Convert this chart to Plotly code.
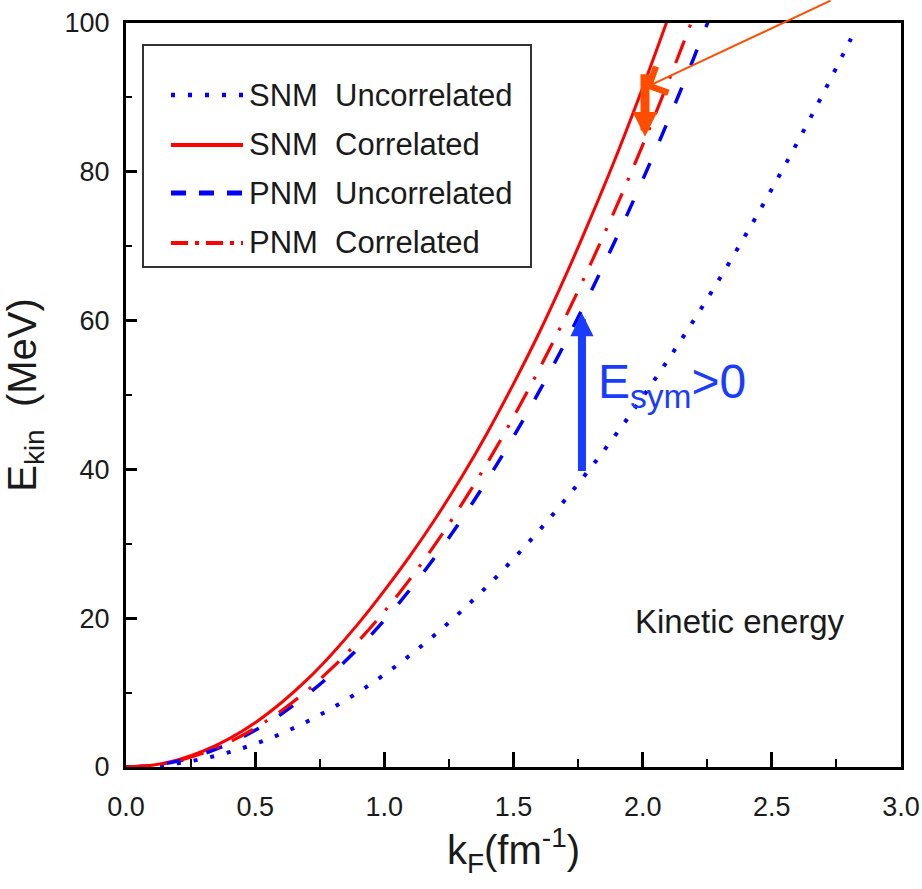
import plotly.graph_objects as go

# ---------------- data ----------------
k_F = [0.0, 0.1, 0.2, 0.3, 0.4, 0.5, 0.6, 0.7, 0.8, 0.9, 1.0, 1.1, 1.2, 1.3,
       1.4, 1.5, 1.6, 1.7, 1.8, 1.9, 2.0, 2.1, 2.2, 2.3, 2.4, 2.5, 2.6, 2.7,
       2.8, 2.82]

snm_uncorrelated = [0.0, 0.12, 0.50, 1.12, 1.99, 3.11, 4.47, 6.09, 7.96, 10.07,
                    12.43, 15.04, 17.90, 21.01, 24.36, 27.97, 31.82, 35.92,
                    40.27, 44.87, 49.72, 54.82, 60.16, 65.75, 71.60, 77.69,
                    84.03, 90.61, 97.45, 98.85]

snm_correlated = [0.0, 0.24, 0.95, 2.15, 3.82, 5.95, 8.6, 11.7, 15.3, 19.3,
                  23.7, 28.4, 33.5, 39.0, 45.0, 51.5, 58.4, 65.9, 73.9, 82.3,
                  91.3, 100.8, 110.6]

pnm_uncorrelated = [0.0, 0.20, 0.79, 1.78, 3.16, 4.93, 7.10, 9.67, 12.63, 15.98,
                    19.73, 23.87, 28.41, 33.34, 38.67, 44.39, 50.51, 57.02,
                    63.93, 71.22, 78.92, 87.01, 95.49, 104.37]

pnm_correlated = [0.0, 0.21, 0.84, 1.88, 3.34, 5.23, 7.52, 10.24, 13.38, 16.93,
                  20.9, 25.29, 30.1, 35.32, 40.96, 47.03, 53.5, 60.4, 67.72,
                  75.45, 83.6, 92.17, 101.16, 110.6]

series_names = ["SNM\u00a0\u00a0Uncorrelated", "SNM\u00a0\u00a0Correlated",
                "PNM\u00a0\u00a0Uncorrelated", "PNM\u00a0\u00a0Correlated"]

x_ticks = [0.0, 0.5, 1.0, 1.5, 2.0, 2.5, 3.0]
y_ticks = [0, 20, 40, 60, 80, 100]

# ---------------- styling ----------------
RED = "#ff0000"
BLUE = "#0000ff"
ARROW_BLUE = "#1a3cff"
ORANGE = "#ff4d00"
FONT = "Liberation Sans, Arial, sans-serif"
TXT = "#1a1a1a"

W, H = 922, 889
L, R, T, B = 126, 21, 23, 122
PW, PH = W - L - R, H - T - B


def px(x):
    return (x - L) / PW


def py(y):
    return (H - B - y) / PH


fig = go.Figure()

curve_styles = [
    (snm_uncorrelated, BLUE, 4, "4px,13px"),
    (snm_correlated, RED, 3, "solid"),
    (pnm_uncorrelated, BLUE, 3.5, "17px,24px"),
    (pnm_correlated, RED, 3.2, "24px,14px,3px,14px"),
]
for name, (vals, col, w, dash) in zip(series_names, curve_styles):
    fig.add_trace(go.Scatter(
        x=k_F[:len(vals)], y=vals, mode="lines", name=name,
        line=dict(color=col, width=w, dash=dash, shape="spline"),
        showlegend=False,
    ))

shapes = []
annotations = []

# manual legend (box + sample lines + labels)
shapes.append(dict(type="rect", xref="paper", yref="paper",
                   x0=px(143), x1=px(531), y0=py(267), y1=py(45),
                   line=dict(color="#333333", width=2), fillcolor="white",
                   layer="below"))
legend_rows = [95, 145, 193, 243]
legend_styles = [
    (BLUE, 4.5, "4px,13px"),
    (RED, 4, "solid"),
    (BLUE, 5, "15px,13px"),
    (RED, 4, "17px,7px,4px,7px"),
]
for row, name, (col, w, dash) in zip(legend_rows, series_names, legend_styles):
    shapes.append(dict(type="line", xref="paper", yref="paper",
                       x0=px(171), x1=px(243), y0=py(row), y1=py(row),
                       line=dict(color=col, width=w, dash=dash)))
    annotations.append(dict(xref="paper", yref="paper", x=px(247), y=py(row),
                            xanchor="left", yanchor="middle", text=name,
                            showarrow=False,
                            font=dict(family=FONT, size=31, color=TXT)))

# "Kinetic energy" label
annotations.append(dict(x=1.963, y=19.6, xref="x", yref="y", xanchor="left",
                        yanchor="middle", text="Kinetic energy", showarrow=False,
                        font=dict(family=FONT, size=33, color=TXT)))

# E_sym > 0 label and arrow
annotations.append(dict(x=1.82, y=51.3, xref="x", yref="y", xanchor="left",
                        yanchor="middle", text="E<sub>sym</sub>&gt;0",
                        showarrow=False,
                        font=dict(family=FONT, size=48, color=ARROW_BLUE)))
annotations.append(dict(x=1.765, y=61.0, ax=1.765, ay=39.6, xref="x", yref="y",
                        axref="x", ayref="y", text="", showarrow=True,
                        arrowhead=2, arrowwidth=8, arrowsize=0.58,
                        arrowcolor=ARROW_BLUE, standoff=0, startstandoff=0))

# orange thick down arrow
annotations.append(dict(x=2.009, y=84.7, ax=2.009, ay=93.3, xref="x", yref="y",
                        axref="x", ayref="y", text="", showarrow=True,
                        arrowhead=2, arrowwidth=9, arrowsize=0.55,
                        arrowcolor=ORANGE, standoff=0, startstandoff=0))
# thin orange pointer coming from outside the frame
annotations.append(dict(x=2.009, y=91.3, ax=2.733, ay=103.1, xref="x", yref="y",
                        axref="x", ayref="y", text="", showarrow=True,
                        arrowhead=4, arrowwidth=2, arrowsize=2.8,
                        arrowcolor=ORANGE, standoff=0, startstandoff=0))

fig.update_layout(
    width=W, height=H,
    margin=dict(l=L, r=R, t=T, b=B, pad=0, autoexpand=False),
    paper_bgcolor="white", plot_bgcolor="white",
    shapes=shapes, annotations=annotations,
    showlegend=False,
)

fig.update_xaxes(
    range=[0, 3], tickvals=x_ticks, ticktext=[f"{v:.1f}" for v in x_ticks],
    automargin=False, ticklabeloverflow="allow",
    showgrid=False, zeroline=False, showline=True, linecolor="black",
    linewidth=3, mirror=True, ticks="inside", ticklen=15, tickwidth=2.5,
    tickcolor="black", ticklabelstandoff=14,
    minor=dict(ticks="inside", ticklen=8, tickwidth=2, tickcolor="black",
               dtick=0.25, showgrid=False),
    tickfont=dict(family=FONT, size=27, color=TXT),
    title=dict(text="k<sub>F</sub>(fm<sup>-1</sup>)", standoff=12,
               font=dict(family=FONT, size=40, color=TXT)),
)
fig.update_yaxes(
    range=[0, 100], tickvals=y_ticks, ticktext=[str(v) for v in y_ticks],
    automargin=False, ticklabeloverflow="allow",
    showgrid=False, zeroline=False, showline=True, linecolor="black",
    linewidth=3, mirror=True, ticks="inside", ticklen=11, tickwidth=2.5,
    tickcolor="black", ticklabelstandoff=8,
    minor=dict(ticks="inside", ticklen=6, tickwidth=2, tickcolor="black",
               dtick=10, showgrid=False),
    tickfont=dict(family=FONT, size=27, color=TXT),
    title=dict(text="E<sub>kin</sub>\u00a0\u00a0(MeV)", standoff=30,
               font=dict(family=FONT, size=40, color=TXT)),
)

fig.write_html("out.html")
